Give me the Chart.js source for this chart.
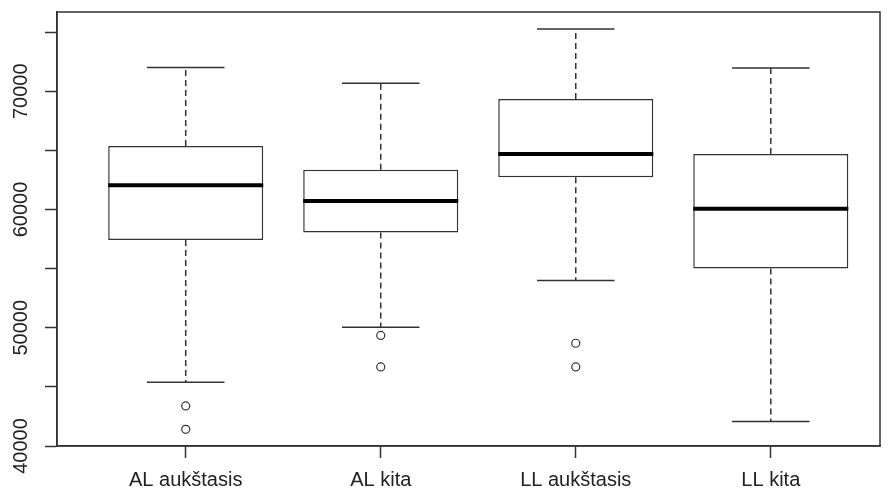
<!DOCTYPE html>
<html>
<head>
<meta charset="utf-8">
<script src="https://cdn.jsdelivr.net/npm/chart.js@4/dist/chart.umd.min.js"></script>
<style>
  html, body { margin: 0; padding: 0; background: #fff; }
  #wrap { width: 890px; height: 493px; position: relative; }
</style>
</head>
<body>
<div id="wrap"><canvas id="boxChart"></canvas></div>
<script>
// Box plot values
const categories = ["AL aukštasis", "AL kita", "LL aukštasis", "LL kita"];
const whiskerLow = [45400, 50050, 54000, 42070];
const quartile1 = [57410, 58060, 62720, 55020];
const medians = [62040, 60710, 64690, 60060];
const quartile3 = [65370, 63360, 69350, 64690];
const whiskerHigh = [72000, 70680, 75270, 71970];
const outliers = [[43390, 41410], [49350, 46690], [48690, 46690], []];
const yTicks = [40000, 45000, 50000, 55000, 60000, 65000, 70000, 75000];
const yLabelEvery = 10000;

(function () {
  "use strict";

  const lineColor = "#333";
  const fontFamily = '"Liberation Sans", Arial, sans-serif';

  // whiskers, caps, medians and the frame, drawn through the scales
  const boxPlotLines = {
    id: "boxPlotLines",
    afterDatasetsDraw(chart) {
      const { ctx, chartArea, scales } = chart;
      const y = scales.y;
      const bars = chart.getDatasetMeta(0).data;
      ctx.save();
      bars.forEach((bar, i) => {
        const { x, width } = bar.getProps(["x", "width"], true);
        const yLow = y.getPixelForValue(whiskerLow[i]);
        const yQ1 = y.getPixelForValue(quartile1[i]);
        const yQ3 = y.getPixelForValue(quartile3[i]);
        const yHigh = y.getPixelForValue(whiskerHigh[i]);
        const yMed = y.getPixelForValue(medians[i]);

        ctx.strokeStyle = lineColor;
        ctx.lineWidth = 1.5;
        ctx.setLineDash([6, 4]);
        ctx.beginPath();
        ctx.moveTo(x, yQ3);
        ctx.lineTo(x, yHigh);
        ctx.moveTo(x, yQ1);
        ctx.lineTo(x, yLow);
        ctx.stroke();

        ctx.setLineDash([]);
        ctx.beginPath();
        ctx.moveTo(x - width / 4, yHigh);
        ctx.lineTo(x + width / 4, yHigh);
        ctx.moveTo(x - width / 4, yLow);
        ctx.lineTo(x + width / 4, yLow);
        ctx.stroke();

        ctx.strokeStyle = "#000";
        ctx.lineWidth = 4;
        ctx.beginPath();
        ctx.moveTo(x - width / 2, yMed);
        ctx.lineTo(x + width / 2, yMed);
        ctx.stroke();
      });

      ctx.strokeStyle = lineColor;
      ctx.lineWidth = 1.5;
      ctx.strokeRect(
        chartArea.left,
        chartArea.top,
        chartArea.right - chartArea.left,
        chartArea.bottom - chartArea.top
      );
      ctx.restore();
    },
    afterDraw(chart) {
      // rotated y labels like R's las = 0
      const { ctx } = chart;
      const y = chart.scales.y;
      ctx.save();
      ctx.fillStyle = "#222";
      ctx.font = "20px " + fontFamily;
      ctx.textAlign = "center";
      ctx.textBaseline = "middle";
      yTicks
        .filter((v) => v % yLabelEvery === 0)
        .forEach((v) => {
          ctx.save();
          ctx.translate(21, y.getPixelForValue(v));
          ctx.rotate(-Math.PI / 2);
          ctx.fillText(String(v), 0, 0);
          ctx.restore();
        });
      ctx.restore();
    },
  };

  const boxData = categories.map((c, i) => ({ x: i + 1, y: [quartile1[i], quartile3[i]] }));
  const outlierData = [];
  outliers.forEach((list, i) => {
    list.forEach((v) => outlierData.push({ x: i + 1, y: v }));
  });

  const ctx = document.getElementById("boxChart");
  new Chart(ctx, {
    type: "bar",
    data: {
      datasets: [
        {
          label: "boxes",
          data: boxData,
          backgroundColor: "#fff",
          borderColor: lineColor,
          borderWidth: 1.5,
          borderSkipped: false,
          barPercentage: 0.795,
          categoryPercentage: 1,
        },
        {
          type: "scatter",
          label: "outliers",
          data: outlierData,
          pointStyle: "circle",
          pointRadius: 4,
          pointBackgroundColor: "#fff",
          pointBorderColor: lineColor,
          pointBorderWidth: 1.2,
        },
      ],
    },
    options: {
      responsive: true,
      maintainAspectRatio: false,
      animation: false,
      events: [],
      layout: { padding: { top: 12, right: 10, left: 0, bottom: 0 } },
      plugins: {
        legend: { display: false },
        tooltip: { enabled: false },
      },
      scales: {
        x: {
          type: "linear",
          min: 0.34,
          max: 4.56,
          offset: false,
          afterBuildTicks: (scale) => {
            scale.ticks = categories.map((c, i) => ({ value: i + 1 }));
          },
          afterFit: (scale) => {
            scale.height = 47;
          },
          grid: {
            offset: false,
            drawOnChartArea: false,
            tickLength: 12,
            tickColor: lineColor,
            tickWidth: 1.5,
          },
          border: { color: lineColor, width: 1.5 },
          ticks: {
            padding: 10,
            color: "#222",
            font: { family: fontFamily, size: 20 },
            maxRotation: 0,
            callback: (v) => categories[v - 1] || "",
          },
        },
        y: {
          min: 40000,
          max: 76700,
          afterBuildTicks: (scale) => {
            scale.ticks = yTicks.map((v) => ({ value: v }));
          },
          afterFit: (scale) => {
            scale.width = 57;
          },
          grid: {
            drawOnChartArea: false,
            tickLength: 12,
            tickColor: lineColor,
            tickWidth: 1.5,
          },
          border: { color: lineColor, width: 1.5 },
          ticks: { display: false },
        },
      },
    },
    plugins: [boxPlotLines],
  });
})();
</script>
</body>
</html>
